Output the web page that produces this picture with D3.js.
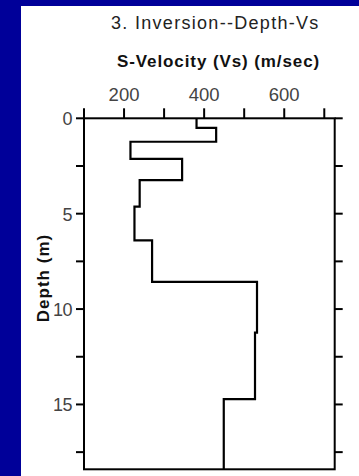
<!DOCTYPE html>
<html>
<head>
<meta charset="utf-8">
<script src="https://d3js.org/d3.v7.min.js"></script>
<style>
  body { margin: 0; background: #000099; }
  svg { display: block; }
  .lbl { font-family: "Liberation Sans", Arial, sans-serif; }
</style>
</head>
<body>
<svg id="chart" width="359" height="476"></svg>
<script>
// layer boundaries (m) and shear velocity per layer (m/sec)
var depthTop = [0, 0.5, 1.23, 2.13, 3.24, 4.63, 6.4, 8.57, 11.24, 14.72];
var depthBottom = [0.5, 1.23, 2.13, 3.24, 4.63, 6.4, 8.57, 11.24, 14.72, 18.4];
var velocity = [381, 430, 216, 345, 239, 226, 270, 532, 527, 449];

var xMajor = [200, 400, 600];
var xMinor = [100, 300, 500, 700];
var yMajor = [0, 5, 10, 15];
var yMinor = [2.5, 7.5, 12.5, 17.5];

var svg = d3.select("#chart");

// white panel
svg.append("rect")
    .attr("x", 21).attr("y", 6)
    .attr("width", 338).attr("height", 470)
    .attr("fill", "#fff");

var x = d3.scaleLinear().domain([100, 726]).range([84, 334.7]);
var y = d3.scaleLinear().domain([0, 18.4]).range([118.3, 469.3]);

var g = svg.append("g");

// frame
g.append("rect")
    .attr("x", x(100)).attr("y", y(0))
    .attr("width", x(726) - x(100)).attr("height", y(18.4) - y(0))
    .attr("fill", "none").attr("stroke", "#000").attr("stroke-width", 2);

// top ticks
g.selectAll(".xt")
    .data(xMajor.concat(xMinor))
    .enter().append("line")
    .attr("x1", d => x(d)).attr("x2", d => x(d))
    .attr("y1", y(0)).attr("y2", y(0) - 10)
    .attr("stroke", "#000").attr("stroke-width", 2);

// left / right ticks
var yt = yMajor.concat(yMinor);
g.selectAll(".yl")
    .data(yt)
    .enter().append("line")
    .attr("x1", x(100) - 8).attr("x2", x(100))
    .attr("y1", d => y(d)).attr("y2", d => y(d))
    .attr("stroke", "#000").attr("stroke-width", 2);
g.selectAll(".yr")
    .data(yt)
    .enter().append("line")
    .attr("x1", x(726)).attr("x2", x(726) + 8)
    .attr("y1", d => y(d)).attr("y2", d => y(d))
    .attr("stroke", "#000").attr("stroke-width", 2);

// tick labels
g.selectAll(".xl")
    .data(xMajor)
    .enter().append("text")
    .attr("class", "lbl")
    .attr("x", d => x(d)).attr("y", 100.5)
    .attr("text-anchor", "middle")
    .attr("font-size", "18.5px")
    .attr("fill", "#444")
    .text(d => d);
g.selectAll(".ylb")
    .data(yMajor)
    .enter().append("text")
    .attr("class", "lbl")
    .attr("x", 72).attr("y", d => y(d) + 7)
    .attr("text-anchor", "end")
    .attr("font-size", "18px")
    .attr("letter-spacing", "-0.5px")
    .attr("fill", "#444")
    .text(d => d);

// velocity profile as a step line
var pts = [];
velocity.forEach(function(v, i) {
    pts.push([v, depthTop[i]]);
    pts.push([v, depthBottom[i]]);
});
g.append("path")
    .datum(pts)
    .attr("fill", "none")
    .attr("stroke", "#000")
    .attr("stroke-width", 2.2)
    .attr("d", d3.line().x(d => x(d[0])).y(d => y(d[1])));

// titles
svg.append("text")
    .attr("class", "lbl")
    .attr("x", 111).attr("y", 28.5)
    .attr("font-size", "18px")
    .attr("letter-spacing", "1.3px")
    .attr("fill", "#222")
    .text("3. Inversion--Depth-Vs");
svg.append("text")
    .attr("class", "lbl")
    .attr("x", 117).attr("y", 67)
    .attr("font-size", "17px")
    .attr("letter-spacing", "0.9px")
    .attr("font-weight", "bold")
    .attr("fill", "#111")
    .text("S-Velocity (Vs) (m/sec)");
svg.append("text")
    .attr("class", "lbl")
    .attr("transform", "translate(49,278) rotate(-90)")
    .attr("text-anchor", "middle")
    .attr("font-size", "17px")
    .attr("letter-spacing", "1px")
    .attr("font-weight", "bold")
    .attr("fill", "#111")
    .text("Depth (m)");
</script>
</body>
</html>
